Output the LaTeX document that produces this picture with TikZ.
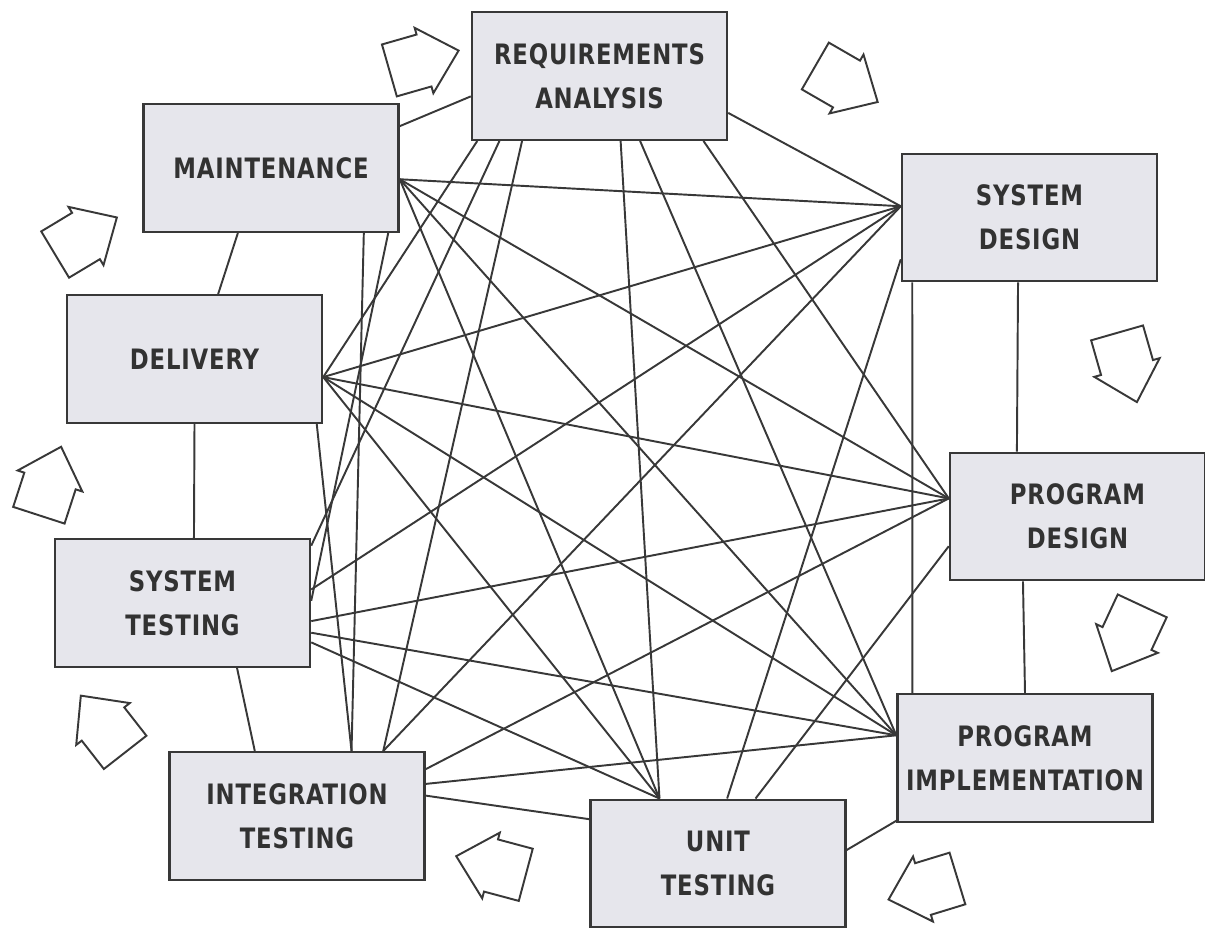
\documentclass[tikz,border=0pt]{standalone}
\usepackage{fontspec}
\newfontfamily\boxfont{DejaVu Sans Condensed}[LetterSpace=3,FakeStretch=0.9]
\definecolor{boxgray}{HTML}{E6E6EC}
\definecolor{inkgray}{HTML}{383838}
\tikzset{
  stage/.style={draw=inkgray, line width=1.4pt, fill=boxgray, minimum width=5.1cm, minimum height=2.55cm, inner sep=0pt, align=center, text=inkgray!90!black, font=\boxfont\bfseries\fontsize{16}{25}\selectfont},
  link/.style={draw=inkgray, line width=1.1pt},
  flow/.pic={\draw[draw=inkgray, line width=1.1pt, fill=white] (-0.72,-0.54) -- (0,-0.54) -- (0,-0.68) -- (0.72,0) -- (0,0.68) -- (0,0.54) -- (-0.72,0.54) -- cycle;}
}
\begin{document}
\begin{tikzpicture}
\useasboundingbox (0,0) rectangle (24.1,-18.62);

\node[stage] (RA) at (11.99,-1.52) {REQUIREMENTS\\ANALYSIS};
\node[stage] (MA) at (5.42,-3.36) {MAINTENANCE};
\node[stage] (SD) at (20.59,-4.35) {SYSTEM\\DESIGN};
\node[stage] (DE) at (3.89,-7.18) {DELIVERY};
\node[stage] (PD) at (21.55,-10.33) {PROGRAM\\DESIGN};
\node[stage] (ST) at (3.65,-12.06) {SYSTEM\\TESTING};
\node[stage] (PI) at (20.5,-15.16) {PROGRAM\\IMPLEMENTATION};
\node[stage] (IT) at (5.94,-16.32) {INTEGRATION\\TESTING};
\node[stage] (UT) at (14.36,-17.27) {UNIT\\TESTING};

% neighbours round the cycle
\draw[link] (RA.-171)to(MA.18);
\draw[link] (RA.-16)to(SD.175);
\draw[link] (SD.-100)to(PD.133);
\draw[link] (PD.-130)to(PI.north);
\draw[link] (PI.-154)to(UT.6);
\draw[link] (UT.161)to(IT.9);
\draw[link] (IT.123)to(ST.-50);
\draw[link] (ST.80)to(DE.south);
\draw[link] (DE.70)to(MA.-117);

% every other pair
\draw[link] (RA.-152)to(DE.-8);
\draw[link] (RA.-147)to(ST.24);
\draw[link] (RA.-140)to(IT.37);
\draw[link] (RA.-72)to(UT.132);
\draw[link] (RA.-58)to(PI.170);
\draw[link] (RA.-32)to(PD.172);
\draw[link] (MA.-5)to(SD.175);
\draw[link] (MA.-5)to(PD.172);
\draw[link] (MA.-5)to(PI.170);
\draw[link] (MA.-5)to(UT.132);
\draw[link] (MA.-35)to(IT.50);
\draw[link] (MA.-29)to(ST.1);
\draw[link] (DE.-8)to(SD.175);
\draw[link] (DE.-8)to(PD.172);
\draw[link] (DE.-8)to(PI.170);
\draw[link] (DE.-8)to(UT.132);
\draw[link] (DE.-28)to(IT.50);
\draw[link] (ST.6)to(SD.175);
\draw[link] (ST.-8)to(PD.172);
\draw[link] (ST.-13)to(PI.170);
\draw[link] (ST.-17)to(UT.132);
\draw[link] (IT.37)to(SD.175);
\draw[link] (IT.20)to(PD.172);
\draw[link] (IT.14)to(PI.170);
\draw[link] (UT.82)to(SD.-162);
\draw[link] (UT.60)to(PD.-167);
\draw[link] (SD.-151)to(PI.150);

% hollow arrows, clockwise
\pic[rotate=16] at (8.48,-1.21) {flow};
\pic[rotate=-30] at (16.93,-1.68) {flow};
\pic[rotate=-74] at (22.54,-7.35) {flow};
\pic[rotate=-115] at (22.54,-12.77) {flow};
\pic[rotate=-163] at (18.46,-17.78) {flow};
\pic[rotate=165] at (9.82,-17.31) {flow};
\pic[rotate=128] at (2.06,-14.48) {flow};
\pic[rotate=72] at (1.00,-9.62) {flow};
\pic[rotate=31] at (1.72,-4.72) {flow};
\end{tikzpicture}
\end{document}
